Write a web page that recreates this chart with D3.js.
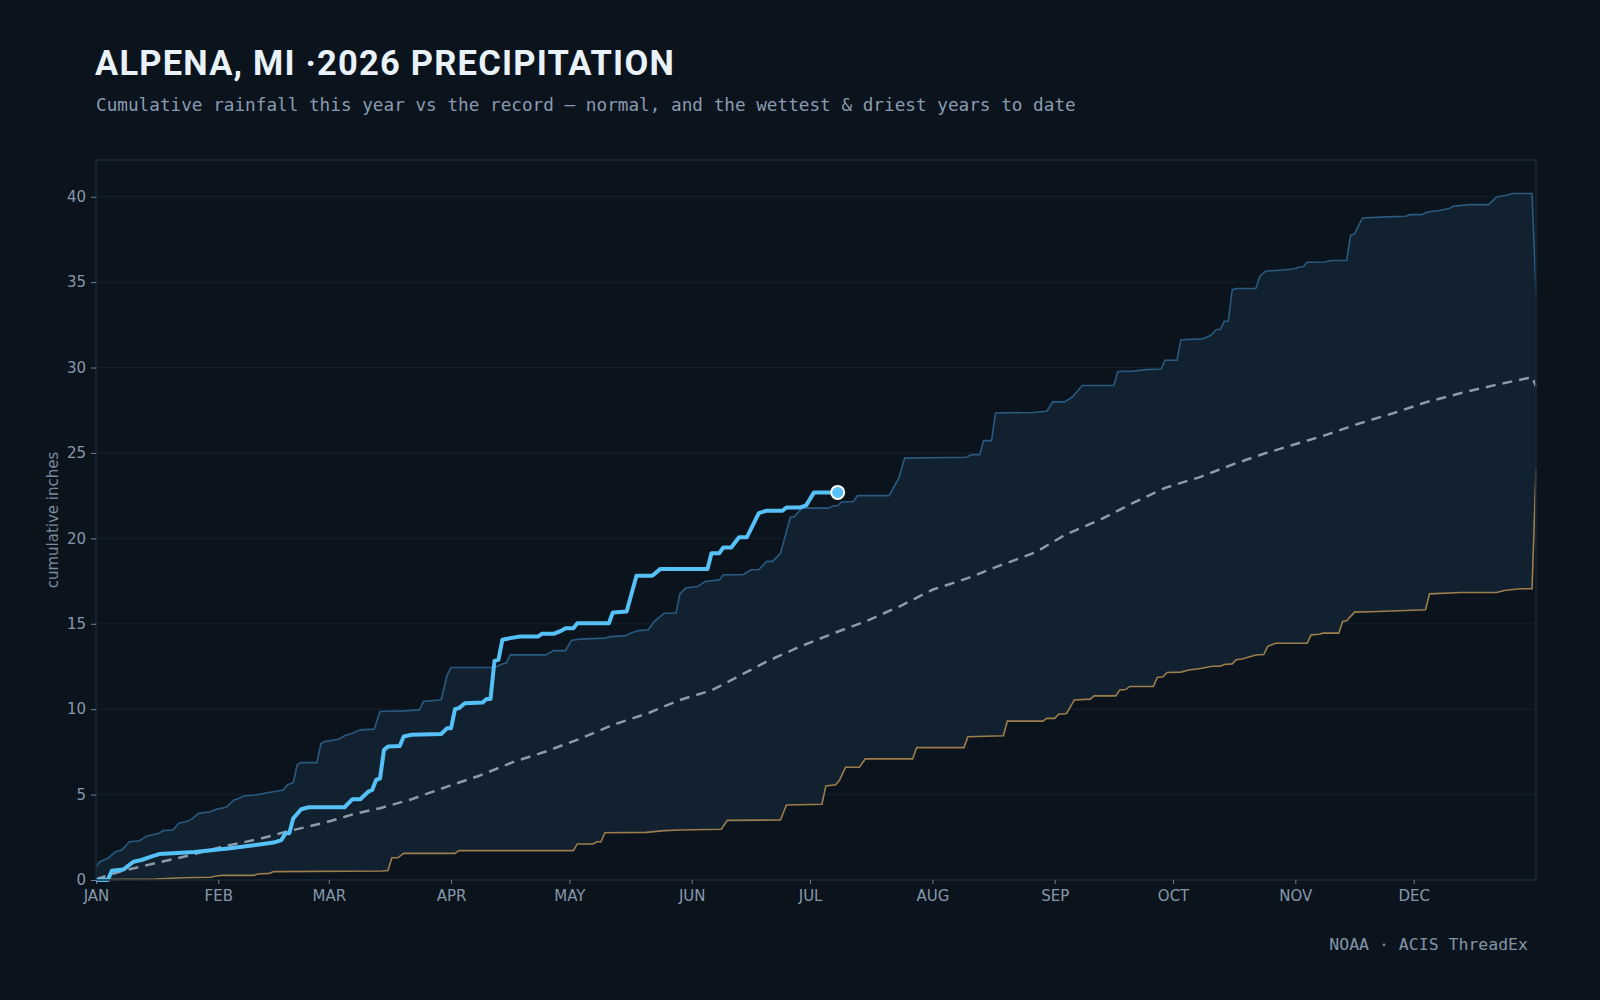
<!DOCTYPE html>
<html>
<head>
<meta charset="utf-8">
<script src="https://cdn.jsdelivr.net/npm/d3@7"></script>
<style>
  html, body { margin: 0; padding: 0; background: #0b141d; }
  svg { display: block; }
</style>
</head>
<body>
<svg id="chart" width="1600" height="1000"></svg>
<script>
// cumulative inches, as [day of year (0 = Jan 1), value]
const thisYear = [[0,0],[3,0],[4,0.54],[7,0.62],[9.5,1.07],[11.5,1.17],[14,1.37],[16,1.52],[25,1.64],[34,1.86],[40.5,2.05],[45,2.19],[47,2.34],[48,2.73],[49,2.73],[50,3.61],[52,4.14],[54,4.26],[63,4.26],[65,4.73],[67,4.73],[69,5.17],[70,5.27],[71,5.86],[72,5.95],[73,7.62],[74,7.81],[77,7.85],[78,8.4],[80,8.5],[87.5,8.55],[89,8.89],[90,8.89],[91,10.0],[92,10.06],[93.5,10.35],[98,10.39],[99,10.6],[100,10.6],[101,12.83],[102,12.89],[103,14.06],[105,14.16],[107.5,14.25],[112,14.25],[113,14.41],[116,14.41],[118,14.6],[119,14.74],[121,14.74],[122,15.03],[130,15.03],[131,15.66],[134.5,15.72],[137,17.81],[141,17.81],[143,18.2],[155,18.2],[156,19.13],[158,19.13],[159,19.47],[161,19.47],[163,20.07],[165,20.07],[168,21.48],[170,21.62],[174,21.62],[175,21.81],[178.5,21.81],[180,21.93],[182,22.69],[188,22.69]];

const wettest = [[0,0.78],[1,1.07],[3,1.27],[5,1.66],[6.5,1.76],[8.5,2.24],[11,2.3],[13,2.58],[16,2.73],[17,2.89],[19.5,2.93],[21,3.32],[23,3.42],[24.5,3.61],[26,3.9],[29,4.0],[30.5,4.14],[33,4.26],[35,4.69],[36,4.76],[37.5,4.92],[40.5,4.98],[43.5,5.11],[47.5,5.27],[48.5,5.57],[50,5.7],[51,6.74],[52,6.87],[56,6.87],[57,7.97],[58,8.1],[61.5,8.24],[63,8.44],[65,8.59],[67,8.79],[70.5,8.83],[72,9.86],[78,9.9],[82,9.96],[83,10.45],[87.5,10.55],[89,12.0],[90,12.44],[101,12.44],[103,12.65],[104,12.7],[105,13.18],[114,13.18],[116,13.43],[119,13.43],[120.5,14.02],[122.5,14.1],[129,14.16],[130.5,14.25],[134,14.29],[135.5,14.45],[137.5,14.6],[140,14.65],[141.5,15.13],[144,15.62],[147,15.62],[148,16.75],[149.5,17.09],[152.5,17.18],[154.5,17.48],[158,17.57],[159,17.87],[164,17.87],[166,18.16],[168,18.16],[170,18.65],[171.5,18.65],[173.5,19.13],[176,21.22],[177,21.28],[179,21.77],[185.5,21.77],[187,21.91],[188,21.91],[189,22.13],[192,22.16],[193,22.5],[201,22.5],[203.5,23.53],[205,24.7],[220.5,24.75],[222,24.9],[224,24.9],[225,25.72],[227,25.72],[228,27.34],[237.5,27.37],[241,27.44],[242.5,27.99],[245.5,27.99],[247.5,28.28],[250,28.95],[258,28.95],[259,29.77],[263,29.79],[266,29.88],[270,29.91],[271,30.43],[274,30.43],[275,31.63],[280.5,31.68],[282.5,31.87],[284,32.23],[285,32.23],[286,32.71],[287,32.71],[288,34.56],[289,34.63],[294,34.63],[295,35.35],[296.5,35.64],[300,35.7],[303.5,35.77],[305,35.89],[306,35.9],[307,36.16],[311.5,36.18],[313,36.27],[317,36.27],[318,37.74],[319,37.82],[321,38.76],[327,38.82],[332,38.86],[333,38.95],[336,38.95],[337.5,39.11],[340.5,39.19],[343,39.31],[344,39.44],[348,39.54],[353,39.54],[355,39.99],[357.5,40.09],[359,40.19],[364,40.19],[365,34.37]];

const driest = [[0,0.02],[15,0.05],[22,0.13],[29,0.16],[30.5,0.23],[32,0.27],[40,0.27],[41,0.35],[44,0.39],[45,0.49],[72.5,0.53],[74,0.55],[75,1.3],[76.5,1.3],[78,1.56],[91,1.56],[92,1.72],[121,1.72],[122,2.11],[126,2.11],[127,2.24],[128,2.24],[129,2.77],[139.5,2.79],[144,2.89],[148,2.93],[158.5,2.97],[160,3.49],[173.5,3.51],[175,4.39],[184,4.43],[185,5.51],[187.5,5.57],[188.5,5.86],[190,6.6],[193.5,6.6],[195,7.09],[207,7.09],[208,7.75],[220,7.75],[221,8.39],[230,8.44],[231,9.3],[240,9.3],[241,9.46],[243,9.46],[244,9.7],[246,9.75],[248,10.54],[252,10.59],[253,10.78],[258.5,10.78],[259.5,11.12],[261,11.15],[262,11.33],[268,11.33],[269,11.86],[270.5,11.9],[271.5,12.15],[275,12.17],[277,12.29],[280,12.38],[283,12.51],[285,12.51],[286,12.62],[288,12.65],[289,12.89],[290.5,12.94],[294,13.17],[296,13.2],[297,13.68],[299,13.86],[307,13.86],[308,14.35],[310,14.39],[311,14.45],[315,14.45],[316,15.13],[317,15.17],[319,15.68],[325,15.72],[332,15.78],[337,15.82],[338,16.75],[346,16.83],[355,16.83],[357,16.95],[361,17.05],[364,17.05],[365,24.02]];

const normal = [[0,0.05],[7,0.55],[15,0.98],[24,1.46],[32,1.95],[41,2.38],[49,2.87],[58,3.36],[66,3.9],[72,4.2],[80,4.73],[89,5.47],[97,6.09],[106,6.93],[114,7.52],[123,8.3],[131,9.08],[140,9.77],[148,10.54],[156,11.1],[162,11.82],[170,12.79],[178.5,13.67],[187,14.45],[195,15.13],[204,16.05],[212,16.99],[221,17.67],[229,18.4],[238,19.17],[246,20.25],[254.5,21.09],[263,22.09],[271,22.96],[280,23.6],[288,24.32],[296,24.95],[303.5,25.48],[312,26.07],[320,26.71],[329,27.34],[337,27.96],[346,28.51],[354,28.94],[363,29.39],[364,29.45],[365,28.9]];

const yTicks = [0, 5, 10, 15, 20, 25, 30, 35, 40];
const yMax = 42.15;

const titleText = "ALPENA, MI ·2026 PRECIPITATION";
const subtitleText = "Cumulative rainfall this year vs the record — normal, and the wettest & driest years to date";
const sourceText = "NOAA · ACIS ThreadEx";

const margin = { top: 160, right: 64, bottom: 120, left: 96 };
const width = 1600, height = 1000;

const start = Date.UTC(2026, 0, 1);
const dayToDate = (d) => new Date(start + d * 864e5);

const svg = d3.select("#chart");

svg.append("rect").attr("width", width).attr("height", height).attr("fill", "#0b141d");

const x = d3
  .scaleUtc()
  .domain([new Date(start), new Date(Date.UTC(2027, 0, 1))])
  .range([margin.left, width - margin.right]);

const y = d3
  .scaleLinear()
  .domain([0, yMax])
  .range([height - margin.bottom, margin.top]);

// grid
svg
  .append("g")
  .selectAll("line")
  .data(yTicks)
  .join("line")
  .attr("x1", margin.left)
  .attr("x2", width - margin.right)
  .attr("y1", (d) => y(d))
  .attr("y2", (d) => y(d))
  .attr("stroke", "#13222f")
  .attr("stroke-width", 1);

const line = d3
  .line()
  .x((d) => x(dayToDate(d[0])))
  .y((d) => y(d[1]));

// record band between wettest and driest
const band = wettest.concat(driest.slice().reverse());
svg
  .append("path")
  .attr("d", line(band) + "Z")
  .attr("fill", "#112130");

svg
  .append("path")
  .attr("d", line(wettest))
  .attr("fill", "none")
  .attr("stroke", "#2a5a80")
  .attr("stroke-width", 1.6);

svg
  .append("path")
  .attr("d", line(driest))
  .attr("fill", "none")
  .attr("stroke", "#9c7d4c")
  .attr("stroke-width", 1.6);

svg
  .append("path")
  .attr("d", line(normal))
  .attr("fill", "none")
  .attr("stroke", "#8c9aa9")
  .attr("stroke-width", 2.5)
  .attr("stroke-dasharray", "10,7");

svg
  .append("path")
  .attr("d", line(thisYear))
  .attr("fill", "none")
  .attr("stroke", "#55c1f6")
  .attr("stroke-width", 4)
  .attr("stroke-linejoin", "round");

const last = thisYear[thisYear.length - 1];
svg
  .append("circle")
  .attr("cx", x(dayToDate(last[0])))
  .attr("cy", y(last[1]))
  .attr("r", 6.5)
  .attr("fill", "#55c1f6")
  .attr("stroke", "#ffffff")
  .attr("stroke-width", 2);

// frame
svg
  .append("rect")
  .attr("x", margin.left)
  .attr("y", margin.top)
  .attr("width", width - margin.left - margin.right)
  .attr("height", height - margin.top - margin.bottom)
  .attr("fill", "none")
  .attr("stroke", "#19293a")
  .attr("stroke-width", 1.5);

// axes
const xAxis = svg
  .append("g")
  .attr("transform", `translate(0, ${height - margin.bottom})`)
  .call(
    d3
      .axisBottom(x)
      .tickValues(d3.utcMonths(new Date(start), new Date(Date.UTC(2027, 0, 1))))
      .tickSize(4)
      .tickPadding(6)
      .tickFormat((d) => d3.utcFormat("%b")(d).toUpperCase())
  );

const yAxis = svg
  .append("g")
  .attr("transform", `translate(${margin.left}, 0)`)
  .call(d3.axisLeft(y).tickValues(yTicks).tickSize(5).tickPadding(5));

[xAxis, yAxis].forEach((g) => {
  g.select(".domain").remove();
  g.selectAll(".tick line").attr("stroke", "#6f8093");
  g.selectAll(".tick text")
    .attr("fill", "#8797aa")
    .style("font-family", "'DejaVu Sans', sans-serif")
    .style("font-size", "15px");
});

// y label
svg
  .append("text")
  .attr("transform", `translate(57.5, ${(margin.top + height - margin.bottom) / 2}) rotate(-90)`)
  .attr("text-anchor", "middle")
  .attr("fill", "#7a8b9e")
  .style("font-family", "'DejaVu Sans', sans-serif")
  .style("font-size", "15px")
  .text("cumulative inches");

// title + subtitle
svg
  .append("text")
  .attr("x", 95)
  .attr("y", 75)
  .attr("fill", "#e9f2f9")
  .style("font-family", "Roboto, sans-serif")
  .style("font-weight", 700)
  .style("font-size", "34.5px")
  .style("letter-spacing", "1.2px")
  .text(titleText);

svg
  .append("text")
  .attr("x", 96)
  .attr("y", 111)
  .attr("fill", "#8a9bb0")
  .style("font-family", "'DejaVu Sans Mono', monospace")
  .style("font-size", "17.7px")
  .text(subtitleText);

svg
  .append("text")
  .attr("x", 1528)
  .attr("y", 950)
  .attr("text-anchor", "end")
  .attr("fill", "#8494a7")
  .style("font-family", "'DejaVu Sans Mono', monospace")
  .style("font-size", "16.5px")
  .text(sourceText);
</script>
</body>
</html>
